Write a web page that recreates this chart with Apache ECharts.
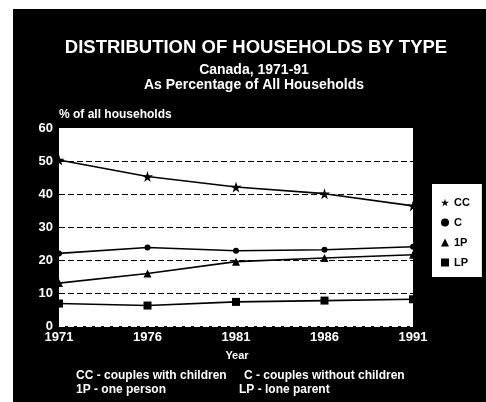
<!DOCTYPE html>
<html>
<head>
<meta charset="utf-8">
<script src="https://cdn.jsdelivr.net/npm/echarts@6/dist/echarts.min.js"></script>
<style>
  html, body { margin: 0; padding: 0; background: #fff; }
  #chart { position: absolute; left: 13px; top: 9px; width: 473px; height: 393px; }
</style>
</head>
<body>
<div id="chart"></div>
<script>
// Census years and share of all households (%) by household type
const years = ['1971', '1976', '1981', '1986', '1991'];
const couplesWithChildren = [50.3, 45.3, 42.1, 40.1, 36.4];
const couplesNoChildren = [22.0, 23.8, 22.8, 23.1, 24.0];
const onePerson = [13.0, 15.9, 19.5, 20.6, 21.6];
const loneParent = [6.8, 6.2, 7.3, 7.7, 8.1];
const seriesNames = ['CC', 'C', '1P', 'LP'];
const yTicks = [0, 10, 20, 30, 40, 50, 60];

const starPath = 'path://M50,0 L61,35 L98,35 L68,57 L79,91 L50,70 L21,91 L32,57 L2,35 L39,35 Z';
const symbols = ['star', 'circle', 'triangle', 'rect'].map(s => s === 'star' ? starPath : s);
const font = 'Liberation Sans, Arial, Helvetica, sans-serif';

const chart = echarts.init(document.getElementById('chart'));

function lineSeries(name, data, symbol, size) {
  return {
    name: name,
    type: 'line',
    data: data,
    symbol: symbol,
    symbolSize: size,
    showAllSymbol: true,
    lineStyle: { color: '#000', width: 1.6 },
    itemStyle: { color: '#000' },
    z: 3
  };
}

function label(x, y, text, size, align) {
  return {
    type: 'text', x: x, y: y, silent: true,
    style: {
      text: text, fill: '#fff', font: 'bold ' + size + 'px ' + font,
      align: align || 'left', verticalAlign: 'middle'
    }
  };
}

chart.setOption({
  backgroundColor: '#000',
  animation: false,
  grid: { left: 46, top: 119, width: 354, height: 198, show: true, backgroundColor: '#fff', borderWidth: 0 },
  xAxis: {
    type: 'category',
    data: years,
    boundaryGap: false,
    axisLine: { show: false },
    axisTick: { show: false },
    axisLabel: { color: '#fff', fontFamily: font, fontWeight: 'bold', fontSize: 13, margin: 5 }
  },
  yAxis: {
    type: 'value',
    min: yTicks[0],
    max: yTicks[yTicks.length - 1],
    interval: 10,
    axisLine: { show: false },
    axisTick: { show: false },
    axisLabel: { color: '#fff', fontFamily: font, fontWeight: 'bold', fontSize: 13, margin: 6 },
    splitLine: {
      show: true,
      lineStyle: { color: ['#fff', '#000', '#000', '#000', '#000', '#000', '#fff'], type: [6, 3], width: 1.2 }
    }
  },
  legend: {
    data: seriesNames.map((n, i) => ({ name: n, icon: symbols[i] })),
    orient: 'vertical',
    left: 419,
    top: 175,
    backgroundColor: '#fff',
    padding: [13, 12, 9, 9],
    itemGap: 9,
    itemWidth: 8,
    itemHeight: 8,
    textStyle: { color: '#000', fontFamily: font, fontWeight: 'bold', fontSize: 11 }
  },
  graphic: [
    label(243, 39, 'DISTRIBUTION OF HOUSEHOLDS BY TYPE', 18.5, 'center'),
    label(241, 61, 'Canada, 1971-91', 14, 'center'),
    label(241, 76.5, 'As Percentage of All Households', 14, 'center'),
    label(46, 105.5, '% of all households', 12),
    label(224, 347, 'Year', 11, 'center'),
    label(63, 367, 'CC - couples with children', 12),
    label(231, 367, 'C - couples without children', 12),
    label(63, 381, '1P - one person', 12),
    label(226, 381, 'LP - lone parent', 12)
  ],
  series: [
    lineSeries('CC', couplesWithChildren, symbols[0], 11),
    lineSeries('C', couplesNoChildren, symbols[1], 6),
    lineSeries('1P', onePerson, symbols[2], 8),
    lineSeries('LP', loneParent, symbols[3], 8)
  ]
});
</script>
</body>
</html>
